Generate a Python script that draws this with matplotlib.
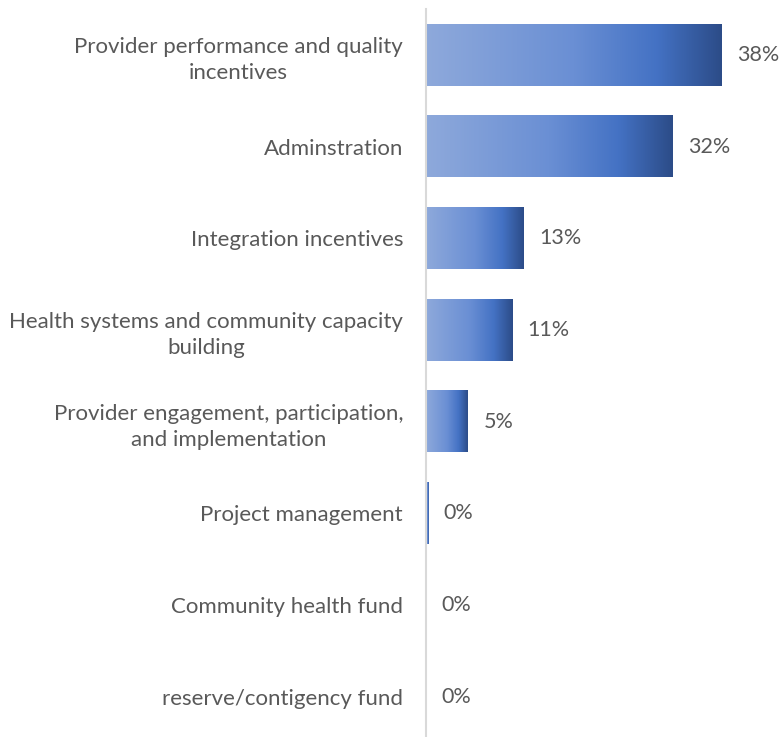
import matplotlib
matplotlib.use("Agg")
import matplotlib.pyplot as plt
import numpy as np
from matplotlib.colors import LinearSegmentedColormap

categories = [
    "Provider performance and quality\nincentives",
    "Adminstration",
    "Integration incentives",
    "Health systems and community capacity\nbuilding",
    "Provider engagement, participation,\nand implementation",
    "Project management",
    "Community health fund",
    "reserve/contigency fund",
]
values = [38.1, 31.8, 12.6, 11.1, 5.4, 0.3, 0.0, 0.0]
labels = ["38%", "32%", "13%", "11%", "5%", "0%", "0%", "0%"]

plt.rcParams['font.family'] = ['Lato', 'DejaVu Sans']
text_color = "#595959"
fs = 16

fig = plt.figure(figsize=(7.82, 7.37), dpi=100)
ax = fig.add_axes([426/782, 0.0, 1 - 426/782, 728/737])

cmap = LinearSegmentedColormap.from_list(
    "grad", [(0.0, "#8EA9DB"), (0.5, "#6A8FD4"), (0.78, "#4472C4"), (1.0, "#2C4C88")])
grad = np.linspace(0, 1, 256).reshape(1, -1)

n = len(categories)
ypos = np.arange(n)
h = 0.67
for y, v in zip(ypos, values):
    if v > 0:
        ax.imshow(grad, cmap=cmap, aspect='auto', extent=(0, v, y + h/2, y - h/2),
                  interpolation='bicubic', zorder=2)
for y, v, lab in zip(ypos, values, labels):
    ax.text(v + 2.0, y, lab, va='center', ha='left', fontsize=fs - 0.5, color=text_color)

ax.set_xlim(0, 45.9)
ax.set_ylim(7.44, -0.5)
ax.set_yticks(ypos)
ax.set_yticklabels(categories, fontsize=fs, color=text_color, ha='right',
                   multialignment='center', linespacing=1.4)
ax.tick_params(axis='y', length=0, pad=16.5)
ax.set_xticks([])
for s in ['top', 'right', 'bottom']:
    ax.spines[s].set_visible(False)
ax.spines['left'].set_color("#D9D9D9")
ax.spines['left'].set_linewidth(1.5)
ax.spines['left'].set_zorder(3)

fig.savefig("out.png", dpi=100)
